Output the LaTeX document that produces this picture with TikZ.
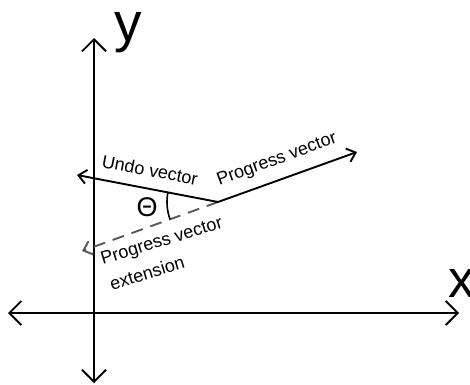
\documentclass[tikz,border=0pt]{standalone}
\usepackage{fontspec}
\setmainfont{Liberation Sans}
\usepackage{tikz}
\usetikzlibrary{arrows.meta,positioning,calc}

\begin{document}
\begin{tikzpicture}[x=1pt,y=1pt,
  axis/.style={line width=1.9pt,{Straight Barb[length=12pt,width=24pt]}-{Straight Barb[length=12pt,width=24pt]}},
  vec/.style={line width=1.9pt,-{Straight Barb[length=8pt,width=14pt]}},
  lbl/.style={font=\fontsize{18}{21}\selectfont,inner sep=0pt}]
\useasboundingbox (0,0) rectangle (470,384);
\coordinate (xl) at (8,71); \coordinate (xr) at (459,71);
\coordinate (yb) at (94,1); \coordinate (yt) at (94,346);
\coordinate (o) at (218,182); \coordinate (prog) at (357,232);
\coordinate (undo) at (77,209); \coordinate (ext) at (82,133);
\draw[axis] (xl)--(xr); \draw[axis] (yb)--(yt);
\node[anchor=base,inner sep=0pt,font=\fontsize{55}{60}\selectfont] (ylab) at (128.5,343) {y};
\node[anchor=base,inner sep=0pt,font=\fontsize{53}{60}\selectfont] (xlab) at (462,87) {x};
\draw[vec,black!65,dash pattern=on 12pt off 8pt] (o)--(ext);
\draw[vec] (o)--(prog); \draw[vec] (o)--(undo);
\draw[line width=1.6pt] ($(o)+(169:51)$) arc (169:200:51);
\node[inner sep=0pt,font=\fontsize{27}{29}\selectfont] (theta) at (147,177) {Θ};
\node[lbl,rotate=-11] (undolab) at (150,214) {Undo vector};
\node[lbl,rotate=20] (proglab) at (277,224) {Progress vector};
\node[lbl,rotate=17] (extlab1) at (162,142) {Progress vector};
\node[lbl,rotate=17] (extlab2) at (147,111) {extension};
\end{tikzpicture}
\end{document}
